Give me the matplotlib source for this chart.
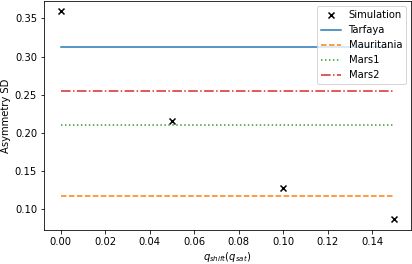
import numpy as np
import matplotlib
matplotlib.use('Agg')
import matplotlib.pyplot as plt

q_shift = [0.0, 0.05, 0.10, 0.15]
sim_sd = [0.359, 0.215, 0.128, 0.087]

names = ['Tarfaya', 'Mauritania', 'Mars1', 'Mars2']
obs_sd = [0.313, 0.117, 0.210, 0.255]
styles = ['-', '--', ':', '-.']

dpi = 72
fig, ax = plt.subplots(figsize=(412 / dpi, 264 / dpi), dpi=dpi)
ax.scatter(q_shift, sim_sd, marker='x', color='k', label='Simulation')
for name, y, ls in zip(names, obs_sd, styles):
  ax.plot([q_shift[0], q_shift[-1]], [y, y], ls, label=name)

ax.set_xlabel(r'$q_{shift}(q_{sat})$', labelpad=3)
ax.set_ylabel('Asymmetry SD')
ax.legend(loc='upper right')
fig.subplots_adjust(left=0.107, right=0.9976, top=0.996, bottom=0.13)
fig.savefig('out.png', dpi=dpi)
